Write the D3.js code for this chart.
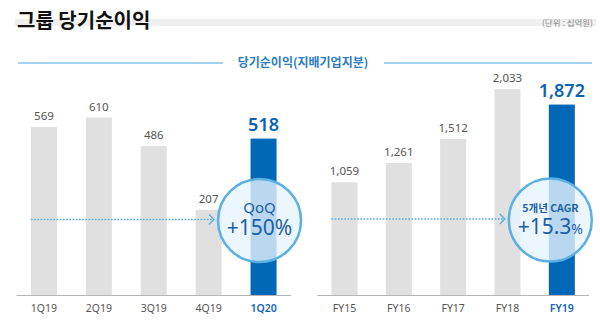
<!DOCTYPE html>
<html><head><meta charset="utf-8">
<script src="https://cdn.jsdelivr.net/npm/d3@7"></script>
<style>
html,body{margin:0;padding:0;background:#fff;}
svg{display:block;}
</style></head>
<body>
<svg id="chart" width="600" height="325"></svg>
<script>
const quarterCats = ["1Q19","2Q19","3Q19","4Q19","1Q20"];
const quarterVals = [569, 610, 486, 207, 518];
const quarterLabels = ["569","610","486","207","518"];
const yearCats = ["FY15","FY16","FY17","FY18","FY19"];
const yearVals = [1059, 1261, 1512, 2033, 1872];
const yearLabels = ["1,059","1,261","1,512","2,033","1,872"];
const titleText = "그룹 당기순이익";
const unitText = "(단위 : 십억원)";
const subtitleText = "당기순이익(지배기업지분)";
const qoqLabel = "QoQ", qoqValue = "+150", pct = "%";
const cagrLabel = "5개년 CAGR", cagrValue = "+15.3";

const svg = d3.select("#chart");
const KR = "'Noto Sans CJK KR','Noto Sans',sans-serif";
const NUM = "'Noto Sans','Open Sans',sans-serif";
const gray = "#e0e0e0", blue = "#0068b7", lblue = "#5ab0e2";
const base = 295, bw = 26;

// header
svg.append("rect").attr("x",15).attr("y",19).attr("width",581).attr("height",7).attr("fill","#efefef");
svg.append("text").attr("x",17).attr("y",28).text(titleText)
  .attr("font-family",KR).attr("font-weight",700).attr("font-size",20).attr("fill","#111");
svg.append("text").attr("x",593).attr("y",26).attr("text-anchor","end").text(unitText)
  .attr("font-family",KR).attr("font-size",8.5).attr("fill","#8a8a8a");

// subtitle
svg.append("line").attr("x1",18).attr("x2",223).attr("y1",63).attr("y2",63).attr("stroke","#a3d4ef").attr("stroke-width",2);
svg.append("line").attr("x1",384).attr("x2",592).attr("y1",63).attr("y2",63).attr("stroke","#a3d4ef").attr("stroke-width",2);
svg.append("text").attr("x",303).attr("y",67).attr("text-anchor","middle").text(subtitleText)
  .attr("font-family",KR).attr("font-weight",600).attr("font-size",12).attr("fill","#2a7cc2");

function panel(cats, vals, labels, xr, yDom, yTop, circle){
  const x = d3.scalePoint().domain(cats).range(xr).padding(0.5);
  const y = d3.scaleLinear().domain(yDom).range([base, yTop]);
  const g = svg.append("g");
  const last = cats.length - 1;
  g.append("line").attr("x1",xr[0]).attr("x2",xr[1]).attr("y1",base+0.5).attr("y2",base+0.5)
    .attr("stroke","#b5b5b5").attr("stroke-width",1);
  g.selectAll("rect.bar").data(vals).join("rect").attr("class","bar")
    .attr("x",(d,i)=>x(cats[i])-bw/2).attr("width",bw)
    .attr("y",d=>y(d)).attr("height",d=>base-y(d))
    .attr("fill",(d,i)=>i===last?blue:gray);
  g.selectAll("text.val").data(vals).join("text").attr("class","val")
    .attr("x",(d,i)=>x(cats[i])).attr("y",(d,i)=>y(d)-(i===last?8:7))
    .attr("text-anchor","middle").text((d,i)=>labels[i])
    .attr("font-family",NUM)
    .attr("font-size",(d,i)=>i===last?18:11.5)
    .attr("font-weight",(d,i)=>i===last?600:400)
    .attr("fill",(d,i)=>i===last?"#0a63b0":"#555");
  g.selectAll("text.cat").data(cats).join("text").attr("class","cat")
    .attr("x",d=>x(d)).attr("y",312).attr("text-anchor","middle").text(d=>d)
    .attr("font-family",NUM).attr("font-size",10.5)
    .attr("font-weight",(d,i)=>i===last?600:400)
    .attr("fill",(d,i)=>i===last?"#1266b5":"#555");
  // dotted arrow
  const cx = x(cats[last]) + circle.dx, cy = circle.cy, r = 41.5;
  const ax0 = x(cats[0]) - bw/2, ax1 = cx - r - 4;
  g.append("line").attr("x1",ax0).attr("x2",ax1).attr("y1",cy-1).attr("y2",cy-1)
    .attr("stroke",lblue).attr("stroke-width",1.7).attr("stroke-dasharray","1.7,1.5");
  g.append("path").attr("d",`M${ax1-5},${cy-6}L${ax1},${cy-1}L${ax1-5},${cy+4}`)
    .attr("fill","none").attr("stroke",lblue).attr("stroke-width",1.4);
  g.append("circle").attr("cx",cx).attr("cy",cy).attr("r",r)
    .attr("fill","#e7f4fe").attr("fill-opacity",0.8)
    .attr("stroke",lblue).attr("stroke-width",2.5);
  g.append("text").attr("x",cx).attr("y",cy-8).attr("text-anchor","middle")
    .attr("font-family",circle.f1).attr("font-size",circle.s1).attr("font-weight",circle.w1)
    .attr("fill","#1b5fa6").text(circle.l1);
  const t2 = g.append("text").attr("x",cx).attr("y",cy+14).attr("text-anchor","middle")
    .attr("font-family",NUM).attr("font-size",circle.s2).attr("fill","#1b5fa6");
  t2.append("tspan").text(circle.l2);
  t2.append("tspan").attr("font-size",circle.sp).text(pct);
}

panel(quarterCats, quarterVals, quarterLabels, [16.5, 291], [-165, 700], 96.9,
  {dx:-4, cy:220.5, l1:qoqLabel, s1:15, w1:400, f1:NUM, l2:qoqValue, s2:21, sp:21});
panel(yearCats, yearVals, yearLabels, [317.3, 589], [-120, 2200], 73.2,
  {dx:-11.5, cy:220, l1:cagrLabel, s1:10.5, w1:600, f1:KR, l2:cagrValue, s2:21, sp:14});
</script>
</body></html>
